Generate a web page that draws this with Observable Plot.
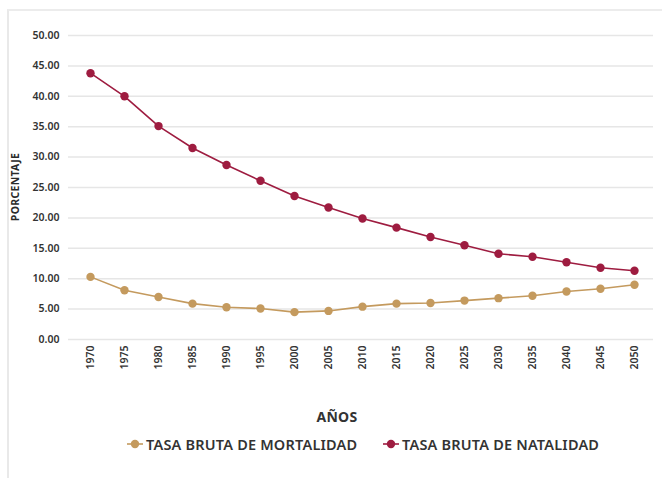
<!DOCTYPE html>
<html>
<head>
<meta charset="utf-8">
<script src="https://cdn.jsdelivr.net/npm/d3@7"></script>
<script src="https://cdn.jsdelivr.net/npm/@observablehq/plot@0.6"></script>
<style>
  html, body { margin: 0; padding: 0; background: #fff; }
  body { width: 662px; height: 478px; position: relative; overflow: hidden; font-family: "Noto Sans", "Open Sans", sans-serif; color: #333; }
  #frame { position: absolute; left: 7px; top: 9px; right: -2px; bottom: -2px; border-left: 2px solid #e9e9e9; border-top: 2px solid #ececec; }
  #chart { position: absolute; left: 0; top: 0; }
  #ylab { position: absolute; left: 15px; top: 187px; transform: translate(-50%, -50%) rotate(-90deg); font-size: 10.5px; font-weight: 700; letter-spacing: 0.3px; white-space: nowrap; color: #2a2a2a; }
  #xlab { position: absolute; left: 337px; top: 416px; transform: translate(-50%, -50%); font-size: 14px; font-weight: 700; letter-spacing: 0.3px; color: #333; }
  .item { position: absolute; top: 434px; display: flex; align-items: center; gap: 3px; white-space: nowrap; font-size: 14.5px; font-weight: 600; letter-spacing: 0.2px; color: #333; }
</style>
</head>
<body>
<div id="frame"></div>
<div id="chart"></div>
<div id="ylab">PORCENTAJE</div>
<div id="xlab">AÑOS</div>
<div id="legend"></div>
<script>
const years = [1970, 1975, 1980, 1985, 1990, 1995, 2000, 2005, 2010, 2015, 2020, 2025, 2030, 2035, 2040, 2045, 2050];
const mortalidad = [10.3, 8.1, 7.0, 5.9, 5.3, 5.1, 4.5, 4.7, 5.4, 5.9, 6.0, 6.4, 6.8, 7.2, 7.9, 8.35, 9.0];
const natalidad = [43.8, 40.0, 35.1, 31.5, 28.7, 26.1, 23.6, 21.7, 19.9, 18.4, 16.85, 15.5, 14.1, 13.6, 12.7, 11.8, 11.3];
const seriesNames = ["TASA BRUTA DE MORTALIDAD", "TASA BRUTA DE NATALIDAD"];
const seriesColors = ["#C49A5E", "#9E1C40"];
const yTicks = [0, 5, 10, 15, 20, 25, 30, 35, 40, 45, 50];

const data = [];
years.forEach((y, i) => {
  data.push({year: y, value: mortalidad[i], serie: seriesNames[0]});
  data.push({year: y, value: natalidad[i], serie: seriesNames[1]});
});

const plot = Plot.plot({
  width: 662,
  height: 430,
  marginLeft: 68,
  marginRight: 9,
  marginTop: 35,
  marginBottom: 91,
  style: { fontFamily: "'Noto Sans', sans-serif", background: "transparent", color: "#333" },
  x: { type: "point", domain: years, range: [86, 638], padding: 0 },
  y: { domain: [0, 50], ticks: yTicks },
  color: { domain: seriesNames, range: seriesColors },
  marks: [
    Plot.ruleY(yTicks, { stroke: "#e6e6e6", strokeWidth: 1.5 }),
    Plot.axisY({ ticks: yTicks, tickFormat: d => d.toFixed(2), tickSize: 0, tickPadding: 9, label: null, fontSize: 10.5, fontWeight: 600, fill: "#333" }),
    Plot.axisX({ tickRotate: -90, tickSize: 0, tickPadding: 6, label: null, fontSize: 10.5, fontWeight: 600, fill: "#333", tickFormat: d => String(d) }),
    Plot.line(data, { x: "year", y: "value", z: "serie", stroke: "serie", strokeWidth: 1.6 }),
    Plot.dot(data, { x: "year", y: "value", fill: "serie", r: 4.2, stroke: "none" })
  ]
});
document.getElementById("chart").appendChild(plot);

const legend = document.getElementById("legend");
const legendLeft = [127, 383];
seriesNames.forEach((name, i) => {
  const item = document.createElement("div");
  item.className = "item";
  item.style.left = legendLeft[i] + "px";
  item.innerHTML = `<svg width="16" height="10"><line x1="0" y1="5" x2="16" y2="5" stroke="${seriesColors[i]}" stroke-width="1.6"/><circle cx="8" cy="5" r="4.2" fill="${seriesColors[i]}"/></svg><span>${name}</span>`;
  legend.appendChild(item);
});
</script>
</body>
</html>
